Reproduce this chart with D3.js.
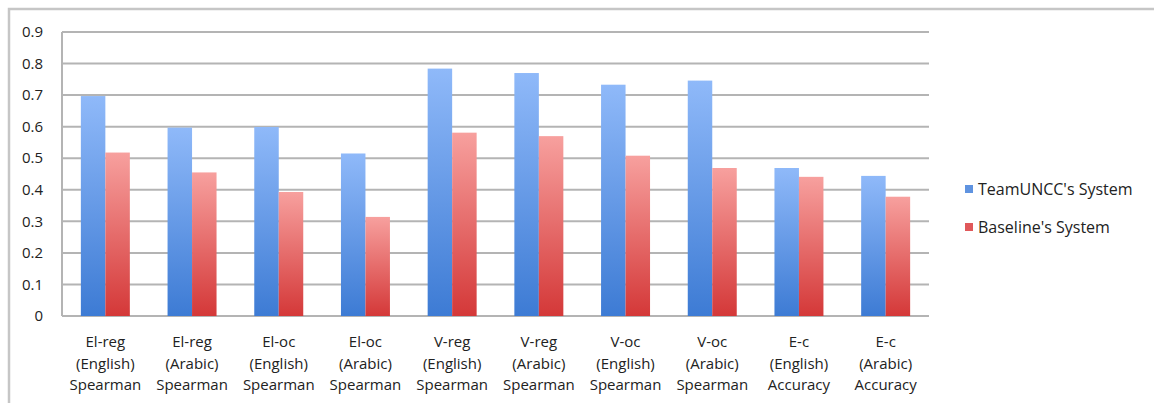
<!DOCTYPE html>
<html lang="en">
<head>
    <meta charset="UTF-8">
    <title>TeamUNCC vs Baseline</title>
    <script src="https://d3js.org/d3.v7.min.js"></script>
    <style>
        body { margin: 0; background: #fff; }
        text { font-family: "Open Sans", sans-serif; fill: #222; }
    </style>
</head>
<body>
    <div id="chart"></div>
    <script>
        const categories = [
            ["El-reg", "(English)", "Spearman"],
            ["El-reg", "(Arabic)", "Spearman"],
            ["El-oc", "(English)", "Spearman"],
            ["El-oc", "(Arabic)", "Spearman"],
            ["V-reg", "(English)", "Spearman"],
            ["V-reg", "(Arabic)", "Spearman"],
            ["V-oc", "(English)", "Spearman"],
            ["V-oc", "(Arabic)", "Spearman"],
            ["E-c", "(English)", "Accuracy"],
            ["E-c", "(Arabic)", "Accuracy"]
        ];
        const seriesNames = ["TeamUNCC's System", "Baseline's System"];
        const teamValues = [0.697, 0.597, 0.599, 0.515, 0.784, 0.770, 0.733, 0.746, 0.469, 0.444];
        const baseValues = [0.518, 0.455, 0.393, 0.314, 0.581, 0.570, 0.508, 0.469, 0.441, 0.378];
        const yTicks = [0, 0.1, 0.2, 0.3, 0.4, 0.5, 0.6, 0.7, 0.8, 0.9];

        const W = 1154, H = 403;
        const plotL = 62, plotR = 929, plotT = 32, plotB = 316;

        const svg = d3.select("#chart").append("svg")
            .attr("width", W).attr("height", H);

        // gradients like the old spreadsheet look
        const defs = svg.append("defs");
        const grads = [["gBlue", "#8fb9f9", "#3d7bd4"], ["gRed", "#f7a09e", "#d43838"]];
        grads.forEach(g => {
            const lg = defs.append("linearGradient").attr("id", g[0])
                .attr("x1", 0).attr("y1", 0).attr("x2", 0).attr("y2", 1);
            lg.append("stop").attr("offset", "0%").attr("stop-color", g[1]);
            lg.append("stop").attr("offset", "100%").attr("stop-color", g[2]);
        });
        const fills = ["url(#gBlue)", "url(#gRed)"];
        const swatch = ["#5f93e0", "#e0585a"];

        // outer frame
        svg.append("path")
            .attr("d", `M9,${H} L9,9 L${W},9`)
            .attr("fill", "none").attr("stroke", "#c6c6c6").attr("stroke-width", 2.5);

        const x0 = d3.scaleBand().domain(d3.range(categories.length)).range([plotL, plotR]);
        const x1 = d3.scaleBand().domain(d3.range(seriesNames.length))
            .range([0, x0.bandwidth()]).paddingOuter(0.77);
        const y = d3.scaleLinear().domain([0, 0.9]).range([plotB, plotT]);

        // gridlines
        svg.append("g")
            .selectAll("line").data(yTicks).join("line")
            .attr("x1", plotL).attr("x2", plotR)
            .attr("y1", d => y(d)).attr("y2", d => y(d))
            .attr("stroke", "#b4b4b4").attr("stroke-width", 2);
        svg.append("line")
            .attr("x1", plotL).attr("x2", plotL).attr("y1", plotT).attr("y2", plotB)
            .attr("stroke", "#b4b4b4").attr("stroke-width", 2);

        // y tick labels
        svg.append("g")
            .selectAll("text").data(yTicks).join("text")
            .attr("x", 43).attr("y", d => y(d))
            .attr("dy", "0.35em").attr("text-anchor", "end")
            .style("font-size", "15px")
            .text(d => d === 0 ? "0" : d3.format(".1f")(d));

        // bars
        const series = [teamValues, baseValues];
        series.forEach((vals, s) => {
            svg.append("g")
                .selectAll("rect").data(vals).join("rect")
                .attr("x", (d, i) => x0(i) + x1(s))
                .attr("width", x1.bandwidth())
                .attr("y", d => y(d))
                .attr("height", d => y(0) - y(d))
                .attr("fill", fills[s]);
        });

        // category labels
        const lab = svg.append("g")
            .selectAll("text").data(categories).join("text")
            .attr("text-anchor", "middle")
            .style("font-size", "15px");
        lab.each(function(d, i) {
            const t = d3.select(this);
            d.forEach((line, k) => {
                t.append("tspan")
                    .attr("x", x0(i) + x0.bandwidth() / 2)
                    .attr("y", 342 + k * 21.5)
                    .attr("dy", "0.35em")
                    .text(line);
            });
        });

        // legend
        const leg = svg.append("g");
        seriesNames.forEach((n, i) => {
            leg.append("rect")
                .attr("x", 965).attr("y", 185 + i * 38)
                .attr("width", 8).attr("height", 8)
                .attr("fill", swatch[i]);
            leg.append("text")
                .attr("x", 978).attr("y", 189 + i * 38)
                .attr("dy", "0.35em")
                .style("font-size", "16px")
                .text(n);
        });
    </script>
</body>
</html>
